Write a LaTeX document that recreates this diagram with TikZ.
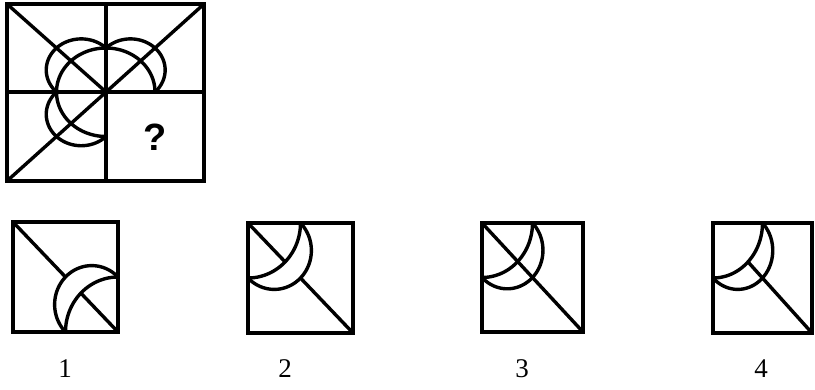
\documentclass[tikz,border=0pt]{standalone}
\usepackage{fontspec}
\setmainfont{Liberation Serif}
\newfontfamily\qfont{Liberation Sans}
\tikzset{
  fig/.style={line width=3.4pt, line cap=round, line join=round, black},
  frame/.style={line width=3.8pt, line join=miter, black},
  lbl/.style={font=\fontsize{27}{27}\selectfont, inner sep=0pt},
  qmark/.style={font=\qfont\bfseries\fontsize{38}{38}\selectfont, inner sep=0pt}
}
% crescent at corner (#1,#2); local x vector (#3pt,0), local y vector (0,#4pt); #5 extra local drawing
\newcommand{\mycrescent}[5]{%
  \begin{scope}[shift={(#1,#2)}, x={(#3pt,0pt)}, y={(0pt,#4pt)}]
    \draw[fig] plot[domain=0:90, samples=45, smooth] ({0.5*cos(\x)},{0.5*sin(\x)});
    \draw[fig] plot[domain=-45:135, samples=70, smooth] ({0.25+0.35355*cos(\x)},{0.25+0.35355*sin(\x)});
    #5
  \end{scope}}
\begin{document}
\begin{tikzpicture}[x=1pt, y=-1pt]
\useasboundingbox (0,0) rectangle (815,389);
% main figure
\draw[frame] (7,4) rectangle (204,181);
\draw[fig] (106,4) -- (106,181);
\draw[fig] (7,92) -- (204,92);
\draw[fig] (7,4) -- (106,92);
\draw[fig] (204,4) -- (7,181);
\mycrescent{106}{92}{-99}{88}{}
\mycrescent{106}{92}{98}{88}{}
\mycrescent{106}{92}{-99}{-89}{}
\node[qmark] (q) at (155,137) {?};
% option 1
\draw[frame] (13,222) rectangle (118,332);
\mycrescent{118}{332}{-105}{110}{\draw[fig] (1,1) -- (0.5,0.5); \draw[fig] (0.35355,0.35355) -- (0,0);}
% option 2
\draw[frame] (248,223) rectangle (353,333);
\mycrescent{248}{223}{105}{-110}{\draw[fig] (0,0) -- (0.35355,0.35355); \draw[fig] (0.5,0.5) -- (1,1);}
% option 3
\draw[frame] (482,223) rectangle (583,332);
\mycrescent{482}{223}{101}{-109}{\draw[fig] (0,0) -- (1,1);}
% option 4
\draw[frame] (713,223) rectangle (812,333);
\mycrescent{713}{223}{99}{-110}{\draw[fig] (0.35355,0.35355) -- (1,1);}
% labels
\node[lbl] (l1) at (65,369) {1};
\node[lbl] (l2) at (285,369) {2};
\node[lbl] (l3) at (522,369) {3};
\node[lbl] (l4) at (761,369) {4};
\end{tikzpicture}
\end{document}
